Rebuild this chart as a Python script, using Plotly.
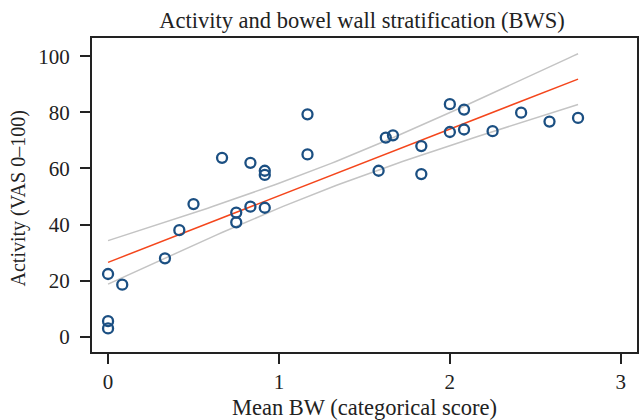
import numpy as np
import plotly.graph_objects as go

# Data
mean_bw = [0.0, 0.083, 0.0, 0.0, 0.333, 0.417, 0.5, 0.667, 0.833, 0.75,
           0.75, 0.833, 0.917, 0.917, 0.917, 1.167, 1.167, 1.583, 1.625, 1.667,
           1.833, 1.833, 2.0, 2.083, 2.0, 2.083, 2.25, 2.417, 2.583, 2.75]
activity = [22.4, 18.6, 5.6, 3.0, 28.0, 38.0, 47.3, 63.8, 62.0, 44.3,
            40.8, 46.4, 59.2, 57.7, 46.0, 79.3, 65.0, 59.2, 71.0, 71.8,
            68.0, 58.0, 82.9, 81.0, 73.0, 73.9, 73.3, 79.9, 76.7, 78.0]

x_ticks = [0, 1, 2, 3]
y_ticks = [0, 20, 40, 60, 80, 100]

# Linear fit with 95% CI of the mean (as in Stata lfitci)
x = np.array(mean_bw)
y = np.array(activity)
n = len(x)
b, a = np.polyfit(x, y, 1)
resid = y - (a + b * x)
s = np.sqrt(np.sum(resid ** 2) / (n - 2))
sxx = np.sum((x - x.mean()) ** 2)
t = 2.048  # t(0.975, 28)
xg = np.linspace(x.min(), x.max(), 100)
yg = a + b * xg
se = s * np.sqrt(1.0 / n + (xg - x.mean()) ** 2 / sxx)
lo = yg - t * se
hi = yg + t * se

FONT = "Liberation Serif"
fig = go.Figure()
fig.add_trace(go.Scatter(x=xg, y=hi, mode="lines",
                         line=dict(color="#c4c4c4", width=1.5), showlegend=False, hoverinfo="skip"))
fig.add_trace(go.Scatter(x=xg, y=lo, mode="lines",
                         line=dict(color="#c4c4c4", width=1.5), showlegend=False, hoverinfo="skip"))
fig.add_trace(go.Scatter(x=xg, y=yg, mode="lines",
                         line=dict(color="#f4461c", width=1.5), showlegend=False))
fig.add_trace(go.Scatter(x=mean_bw, y=activity, mode="markers",
                         marker=dict(symbol="circle-open", size=10, color="#1b4f82",
                                     line=dict(width=2.3, color="#1b4f82")),
                         showlegend=False))

fig.update_layout(
    width=643, height=420, autosize=False,
    margin=dict(l=92, r=6, t=38, b=68),
    paper_bgcolor="white", plot_bgcolor="white",
    font=dict(family=FONT, size=21, color="#222222"),
    title=dict(text="Activity and bowel wall stratification (BWS)",
               x=0.563, xanchor="center", y=1 - 20 / 420, yanchor="middle",
               yref="container", font=dict(family=FONT, size=22.5, color="#222222")),
    xaxis=dict(range=[-0.094, 3.095], tickvals=x_ticks, ticks="outside", ticklen=10,
               tickwidth=1.5, tickcolor="#222222", showgrid=False, zeroline=False,
               showline=True, linecolor="#222222", linewidth=2, mirror=True,
               tickfont=dict(size=21), automargin=False,
               title=dict(text="Mean BW (categorical score)", font=dict(size=22.5), standoff=15)),
    yaxis=dict(range=[-5.4, 106.5], tickvals=y_ticks, ticks="outside", ticklen=10,
               tickwidth=1.5, tickcolor="#222222", showgrid=False, zeroline=False,
               showline=True, linecolor="#222222", linewidth=2, mirror=True,
               tickfont=dict(size=21), ticklabelstandoff=6, automargin=False),
    annotations=[dict(text="Activity (VAS 0–100)", textangle=-90, showarrow=False,
                      xref="paper", yref="paper",
                      x=(18 - 92) / (637 - 92), y=(352 - 198.5) / (352 - 38),
                      xanchor="center", yanchor="middle",
                      font=dict(family=FONT, size=20, color="#222222"))],
)

fig.write_html("out.html")
